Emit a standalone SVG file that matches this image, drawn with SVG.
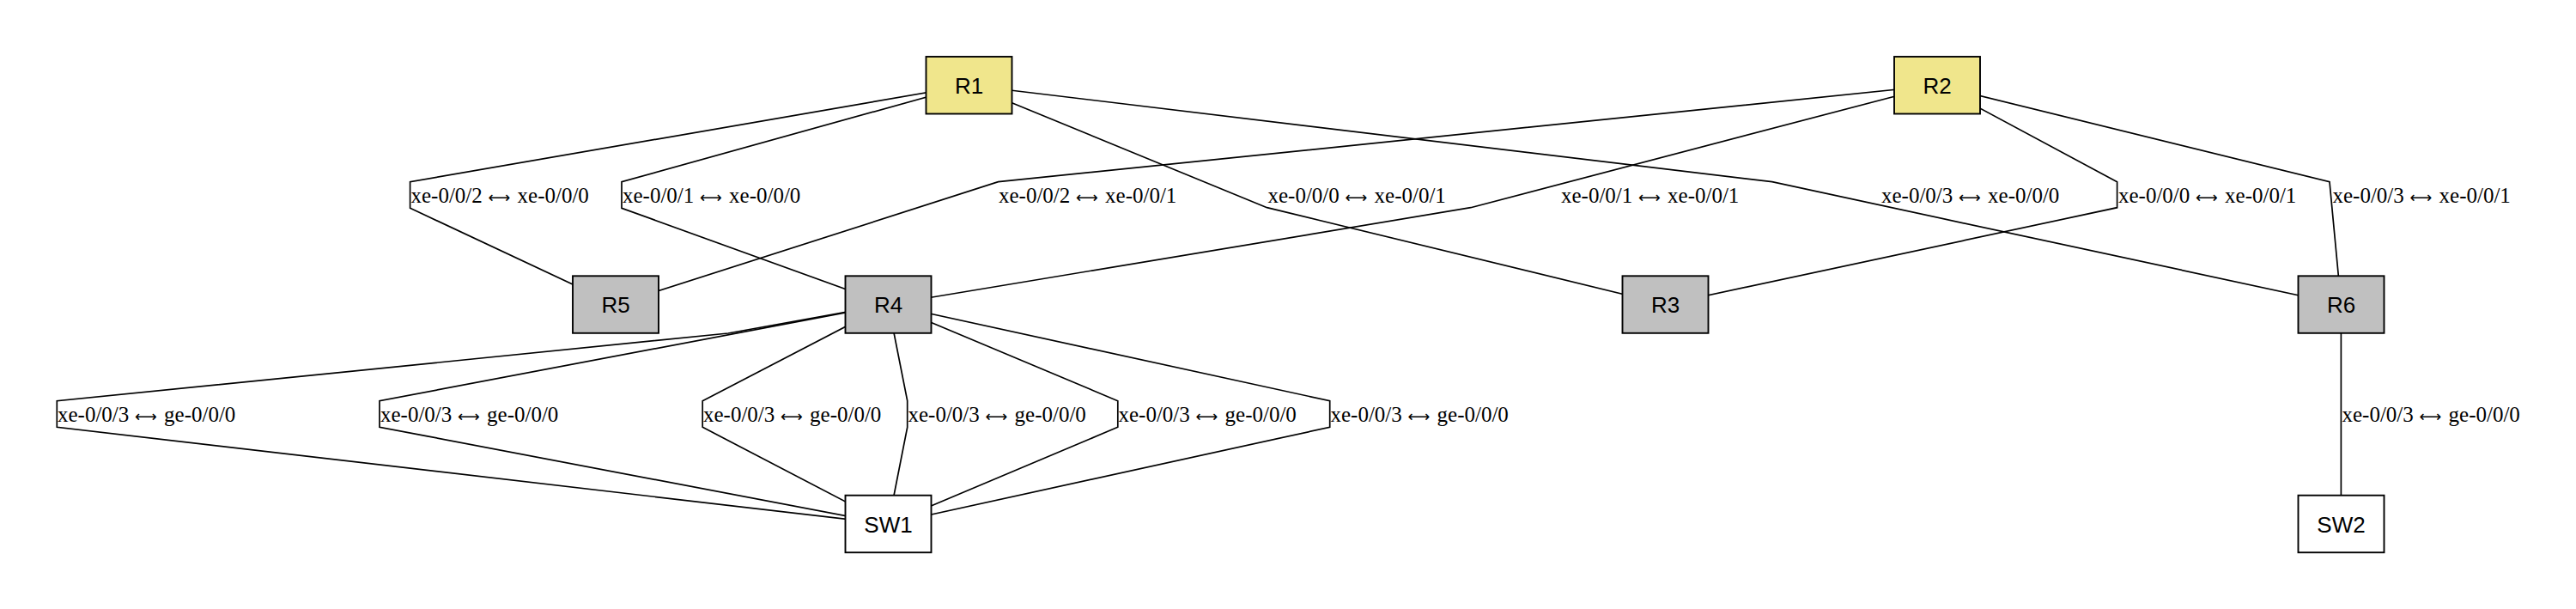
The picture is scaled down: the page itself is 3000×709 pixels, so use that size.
<svg xmlns="http://www.w3.org/2000/svg" width="3000" height="709" viewBox="0 0 3000 709">
<style>
  .bg { fill: #ffffff; }
  .edge { fill: none; stroke: #000000; stroke-width: 1.7; stroke-linejoin: miter; }
  .lbl { font-family: "Liberation Serif", "Times New Roman", "DejaVu Serif", serif; font-size: 25px; fill: #000000; }
  .arr { font-family: "DejaVu Sans", "DejaVu Serif", sans-serif; font-size: 18px; }
  .node rect { stroke: #000000; stroke-width: 1.9; }
  .node text { font-family: "Liberation Sans", Arial, "DejaVu Sans", sans-serif; font-size: 26px; fill: #000000; text-anchor: middle; }
  .core rect { fill: #f0e68c; }
  .router rect { fill: #c0c0c0; }
  .switch rect { fill: #ffffff; }
</style>
<rect class="bg" x="0" y="0" width="3000" height="709"/>
<g id="connectors">
  <polyline class="edge" points="1128.5,99.25 477.6,211.7 477.6,242.3 717,354.5"/>
  <polyline class="edge" points="1128.5,99.25 724,211.7 724,242.3 1034.5,354.5"/>
  <polyline class="edge" points="2256,99.25 1162.5,211.7 717,354.5"/>
  <polyline class="edge" points="1128.5,99.25 1475.5,241.7 1939.5,354.5"/>
  <polyline class="edge" points="2256,99.25 1712.8,241.7 1034.5,354.5"/>
  <polyline class="edge" points="1128.5,99.25 2063.8,211.7 2726.5,354.5"/>
  <polyline class="edge" points="2256,99.25 2465.6,211.7 2465.6,241.7 1939.5,354.5"/>
  <polyline class="edge" points="2256,99.25 2713,211.7 2726.5,354.5"/>
  <polyline class="edge" points="1034.5,354.5 848,388 66.3,466.7 66.3,497.3 1034.5,610"/>
  <polyline class="edge" points="1034.5,354.5 442,466.7 442,497.3 1034.5,610"/>
  <polyline class="edge" points="1034.5,354.5 818.2,466.7 818.2,497.3 1034.5,610"/>
  <polyline class="edge" points="1034.5,354.5 1056.7,466.7 1056.7,497.3 1034.5,610"/>
  <polyline class="edge" points="1034.5,354.5 1301.8,466.7 1301.8,497.3 1034.5,610"/>
  <polyline class="edge" points="1034.5,354.5 1548.7,466.7 1548.7,497.3 1034.5,610"/>
  <polyline class="edge" points="2726.4,354.5 2726.4,610"/>
  <g id="edge-labels">
    <text class="lbl" x="478.5" y="236">xe-0/0/2<tspan class="arr" x="562.8"> ⟷</tspan><tspan x="596.3"> xe-0/0/0</tspan></text>
    <text class="lbl" x="725" y="236">xe-0/0/1<tspan class="arr" x="809.3"> ⟷</tspan><tspan x="842.8"> xe-0/0/0</tspan></text>
    <text class="lbl" x="1163" y="236">xe-0/0/2<tspan class="arr" x="1247.3"> ⟷</tspan><tspan x="1280.8"> xe-0/0/1</tspan></text>
    <text class="lbl" x="1476.5" y="236">xe-0/0/0<tspan class="arr" x="1560.8"> ⟷</tspan><tspan x="1594.3"> xe-0/0/1</tspan></text>
    <text class="lbl" x="1818" y="236">xe-0/0/1<tspan class="arr" x="1902.3"> ⟷</tspan><tspan x="1935.8"> xe-0/0/1</tspan></text>
    <text class="lbl" x="2191" y="236">xe-0/0/3<tspan class="arr" x="2275.3"> ⟷</tspan><tspan x="2308.8"> xe-0/0/0</tspan></text>
    <text class="lbl" x="2467" y="236">xe-0/0/0<tspan class="arr" x="2551.3"> ⟷</tspan><tspan x="2584.8"> xe-0/0/1</tspan></text>
    <text class="lbl" x="2716.5" y="236">xe-0/0/3<tspan class="arr" x="2800.8"> ⟷</tspan><tspan x="2834.3"> xe-0/0/1</tspan></text>
    <text class="lbl" x="67" y="491">xe-0/0/3<tspan class="arr" x="151.3"> ⟷</tspan><tspan x="184.8"> ge-0/0/0</tspan></text>
    <text class="lbl" x="443" y="491">xe-0/0/3<tspan class="arr" x="527.3"> ⟷</tspan><tspan x="560.8"> ge-0/0/0</tspan></text>
    <text class="lbl" x="819" y="491">xe-0/0/3<tspan class="arr" x="903.3"> ⟷</tspan><tspan x="936.8"> ge-0/0/0</tspan></text>
    <text class="lbl" x="1057.5" y="491">xe-0/0/3<tspan class="arr" x="1141.8"> ⟷</tspan><tspan x="1175.3"> ge-0/0/0</tspan></text>
    <text class="lbl" x="1302.5" y="491">xe-0/0/3<tspan class="arr" x="1386.8"> ⟷</tspan><tspan x="1420.3"> ge-0/0/0</tspan></text>
    <text class="lbl" x="1549.5" y="491">xe-0/0/3<tspan class="arr" x="1633.8"> ⟷</tspan><tspan x="1667.3"> ge-0/0/0</tspan></text>
    <text class="lbl" x="2727.5" y="491">xe-0/0/3<tspan class="arr" x="2811.8"> ⟷</tspan><tspan x="2845.3"> ge-0/0/0</tspan></text>
  </g>
</g>
<g id="R1" class="node core"><rect x="1078.5" y="66" width="100" height="66.5"/><text x="1128.5" y="108.8">R1</text></g>
<g id="R2" class="node core"><rect x="2206" y="66" width="100" height="66.5"/><text x="2256" y="108.8">R2</text></g>
<g id="R5" class="node router"><rect x="667" y="321.3" width="100" height="66.5"/><text x="717" y="364">R5</text></g>
<g id="R4" class="node router"><rect x="984.5" y="321.3" width="100" height="66.5"/><text x="1034.5" y="364">R4</text></g>
<g id="R3" class="node router"><rect x="1889.5" y="321.3" width="100" height="66.5"/><text x="1939.5" y="364">R3</text></g>
<g id="R6" class="node router"><rect x="2676.5" y="321.3" width="100" height="66.5"/><text x="2726.5" y="364">R6</text></g>
<g id="SW1" class="node switch"><rect x="984.5" y="576.7" width="100" height="66.5"/><text x="1034.5" y="619.5">SW1</text></g>
<g id="SW2" class="node switch"><rect x="2676.5" y="576.7" width="100" height="66.5"/><text x="2726.5" y="619.5">SW2</text></g>
</svg>
